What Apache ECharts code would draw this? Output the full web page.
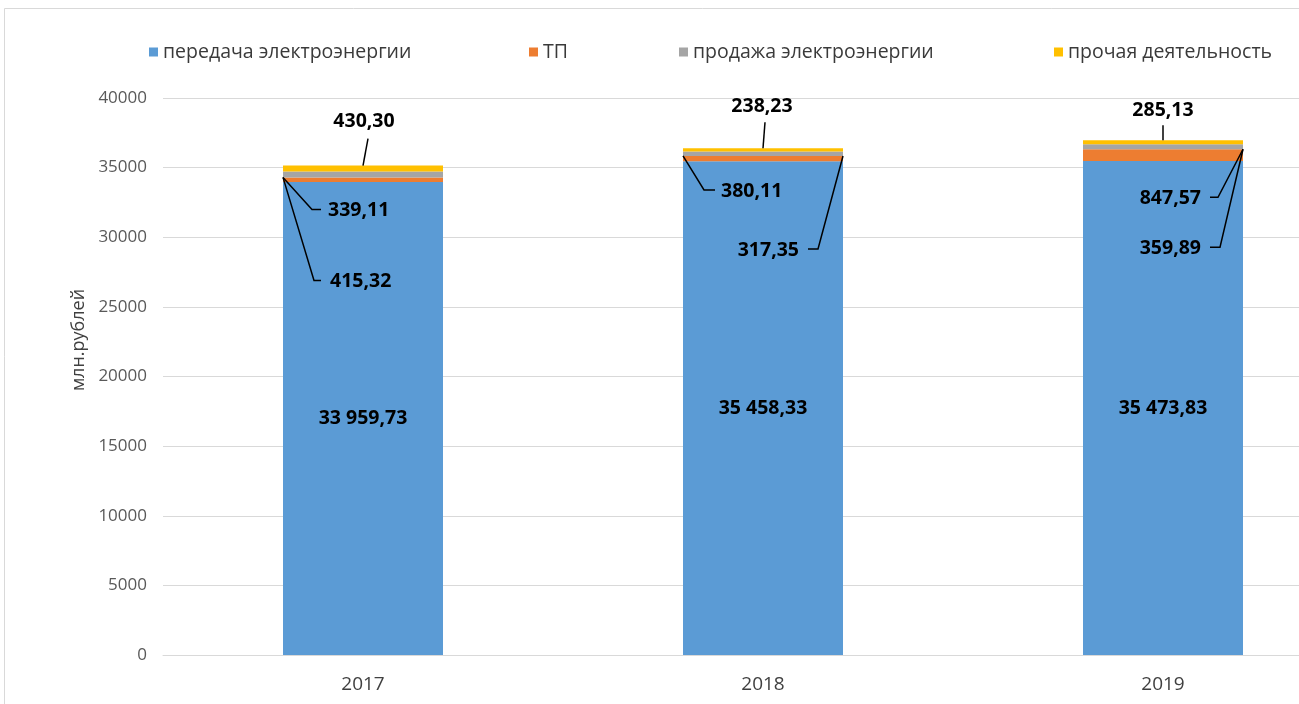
<!DOCTYPE html>
<html><head><meta charset="utf-8">
<script src="https://cdn.jsdelivr.net/npm/echarts@6/dist/echarts.min.js"></script>
<style>html,body{margin:0;padding:0;background:#fff;overflow:hidden}#c{width:1400px;height:704px}</style>
</head><body><div id="c"></div>
<script>
// ---- data ----
const categories = ['2017', '2018', '2019'];
const transmission = [33959.73, 35458.33, 35473.83];   // передача электроэнергии
const connection   = [339.11, 380.11, 847.57];         // ТП
const sales        = [415.32, 317.35, 359.89];         // продажа электроэнергии
const other        = [430.30, 238.23, 285.13];         // прочая деятельность
const seriesNames  = ['передача электроэнергии', 'ТП', 'продажа электроэнергии', 'прочая деятельность'];
const yMin = 0, yMax = 40000, yInterval = 5000;
const yAxisTitle = 'млн.рублей';

// ---- styles ----
const colors = ['#5B9BD5', '#ED7D31', '#A5A5A5', '#FFC000'];
const FONT = '"Open Sans", "Liberation Sans", sans-serif';
const legendLeft = [149, 529, 679, 1054];
// callout label placement (pixel offsets from anchor point on the bar)
// anchor: 'top' = bar top centre; 'left'/'right' = bar edge at top of ТП segment
const calloutLayout = [
  // 2017
  { s: 'other', i: 0, anchor: 'top',   pts: [[5, -27]], tx: 1, ty: -44, align: 'center' },
  { s: 'conn',  i: 0, anchor: 'left',  pts: [[29, 32], [38, 32]], tx: 45, ty: 33, align: 'left' },
  { s: 'sales', i: 0, anchor: 'left',  pts: [[31, 103], [38, 103]], tx: 47, ty: 104, align: 'left' },
  // 2018
  { s: 'other', i: 1, anchor: 'top',   pts: [[2, -26]], tx: -1, ty: -42, align: 'center' },
  { s: 'conn',  i: 1, anchor: 'left',  pts: [[21, 34], [32, 34]], tx: 38, ty: 35, align: 'left' },
  { s: 'sales', i: 1, anchor: 'right', pts: [[-25, 93], [-35, 93]], tx: -44, ty: 94, align: 'right' },
  // 2019
  { s: 'other', i: 2, anchor: 'top',   pts: [[0, -15]], tx: 0, ty: -30, align: 'center' },
  { s: 'conn',  i: 2, anchor: 'right', pts: [[-25, 48], [-33, 48]], tx: -42, ty: 49, align: 'right' },
  { s: 'sales', i: 2, anchor: 'right', pts: [[-23, 98], [-33, 98]], tx: -42, ty: 99, align: 'right' }
];

function fmt(v) {
  const p = v.toFixed(2).split('.');
  return p[0].replace(/\B(?=(\d{3})+(?!\d))/g, ' ') + ',' + p[1];
}

const chart = echarts.init(document.getElementById('c'), null, { renderer: 'canvas' });
const valuesList = [transmission, connection, sales, other];

const option = {
  animation: false,
  color: colors,
  grid: { left: 163, top: 98, width: 1200, height: 557 },
  legend: seriesNames.map((n, k) => ({
    data: [n], left: legendLeft[k], top: 40, padding: 0,
    icon: 'rect', itemWidth: 9, itemHeight: 9, itemGap: 6,
    textStyle: { fontFamily: FONT, fontSize: 19.5, color: '#3a3a3a', lineHeight: 24 },
    selectedMode: false
  })),
  xAxis: {
    type: 'category', data: categories,
    axisLine: { lineStyle: { color: '#D9D9D9' } },
    axisTick: { show: false },
    axisLabel: { fontFamily: FONT, fontSize: 19, color: '#404040', margin: 20 }
  },
  yAxis: {
    type: 'value', min: yMin, max: yMax, interval: yInterval,
    axisLine: { show: false }, axisTick: { show: false },
    splitLine: { lineStyle: { color: '#D9D9D9' } },
    axisLabel: { fontFamily: FONT, fontSize: 17, color: '#595959', margin: 16, formatter: v => String(v) }
  },
  series: valuesList.map((vals, k) => ({
    name: seriesNames[k], type: 'bar', stack: 'total', barWidth: '40%',
    data: vals,
    itemStyle: { color: colors[k] },
    label: k === 0 ? {
      show: true, position: 'inside', formatter: p => fmt(p.value),
      fontFamily: FONT, fontSize: 19.5, fontWeight: 'bold', color: '#000'
    } : { show: false }
  }))
};
chart.setOption(option);

// ---- callouts drawn through the chart's own scales ----
const seriesMap = { conn: connection, sales: sales, other: other };
const x0 = chart.convertToPixel({ xAxisIndex: 0 }, 0);
const x1 = chart.convertToPixel({ xAxisIndex: 0 }, 1);
const halfBar = (x1 - x0) * 0.4 / 2;
const graphics = [{
  type: 'rect', z: -10, silent: true,
  shape: { x: 4.5, y: 8.5, width: 1500, height: 800 },
  style: { fill: 'none', stroke: '#D9D9D9', lineWidth: 1 }
}, {
  type: 'text', x: 79, y: 340, rotation: Math.PI / 2,
  style: { text: yAxisTitle, font: '18px ' + FONT, fill: '#404040', align: 'center', verticalAlign: 'middle' }
}];
calloutLayout.forEach(c => {
  const i = c.i;
  const cx = chart.convertToPixel({ xAxisIndex: 0 }, i);
  const total = transmission[i] + connection[i] + sales[i] + other[i];
  let ax, ay;
  if (c.anchor === 'top') {
    ax = cx; ay = chart.convertToPixel({ yAxisIndex: 0 }, total);
  } else {
    ax = c.anchor === 'left' ? cx - halfBar : cx + halfBar;
    ay = chart.convertToPixel({ yAxisIndex: 0 }, transmission[i] + connection[i]);
  }
  const pts = [[ax, ay]].concat(c.pts.map(p => [ax + p[0], ay + p[1]]));
  graphics.push({ type: 'polyline', z: 50, shape: { points: pts }, style: { stroke: '#000', lineWidth: 1.5, fill: 'none' } });
  graphics.push({
    type: 'text', z: 50, x: ax + c.tx, y: ay + c.ty,
    style: { text: fmt(seriesMap[c.s][i]), font: 'bold 19.5px ' + FONT, fill: '#000', align: c.align, verticalAlign: 'middle' }
  });
});
chart.setOption({ graphic: graphics });
</script>
</body></html>
